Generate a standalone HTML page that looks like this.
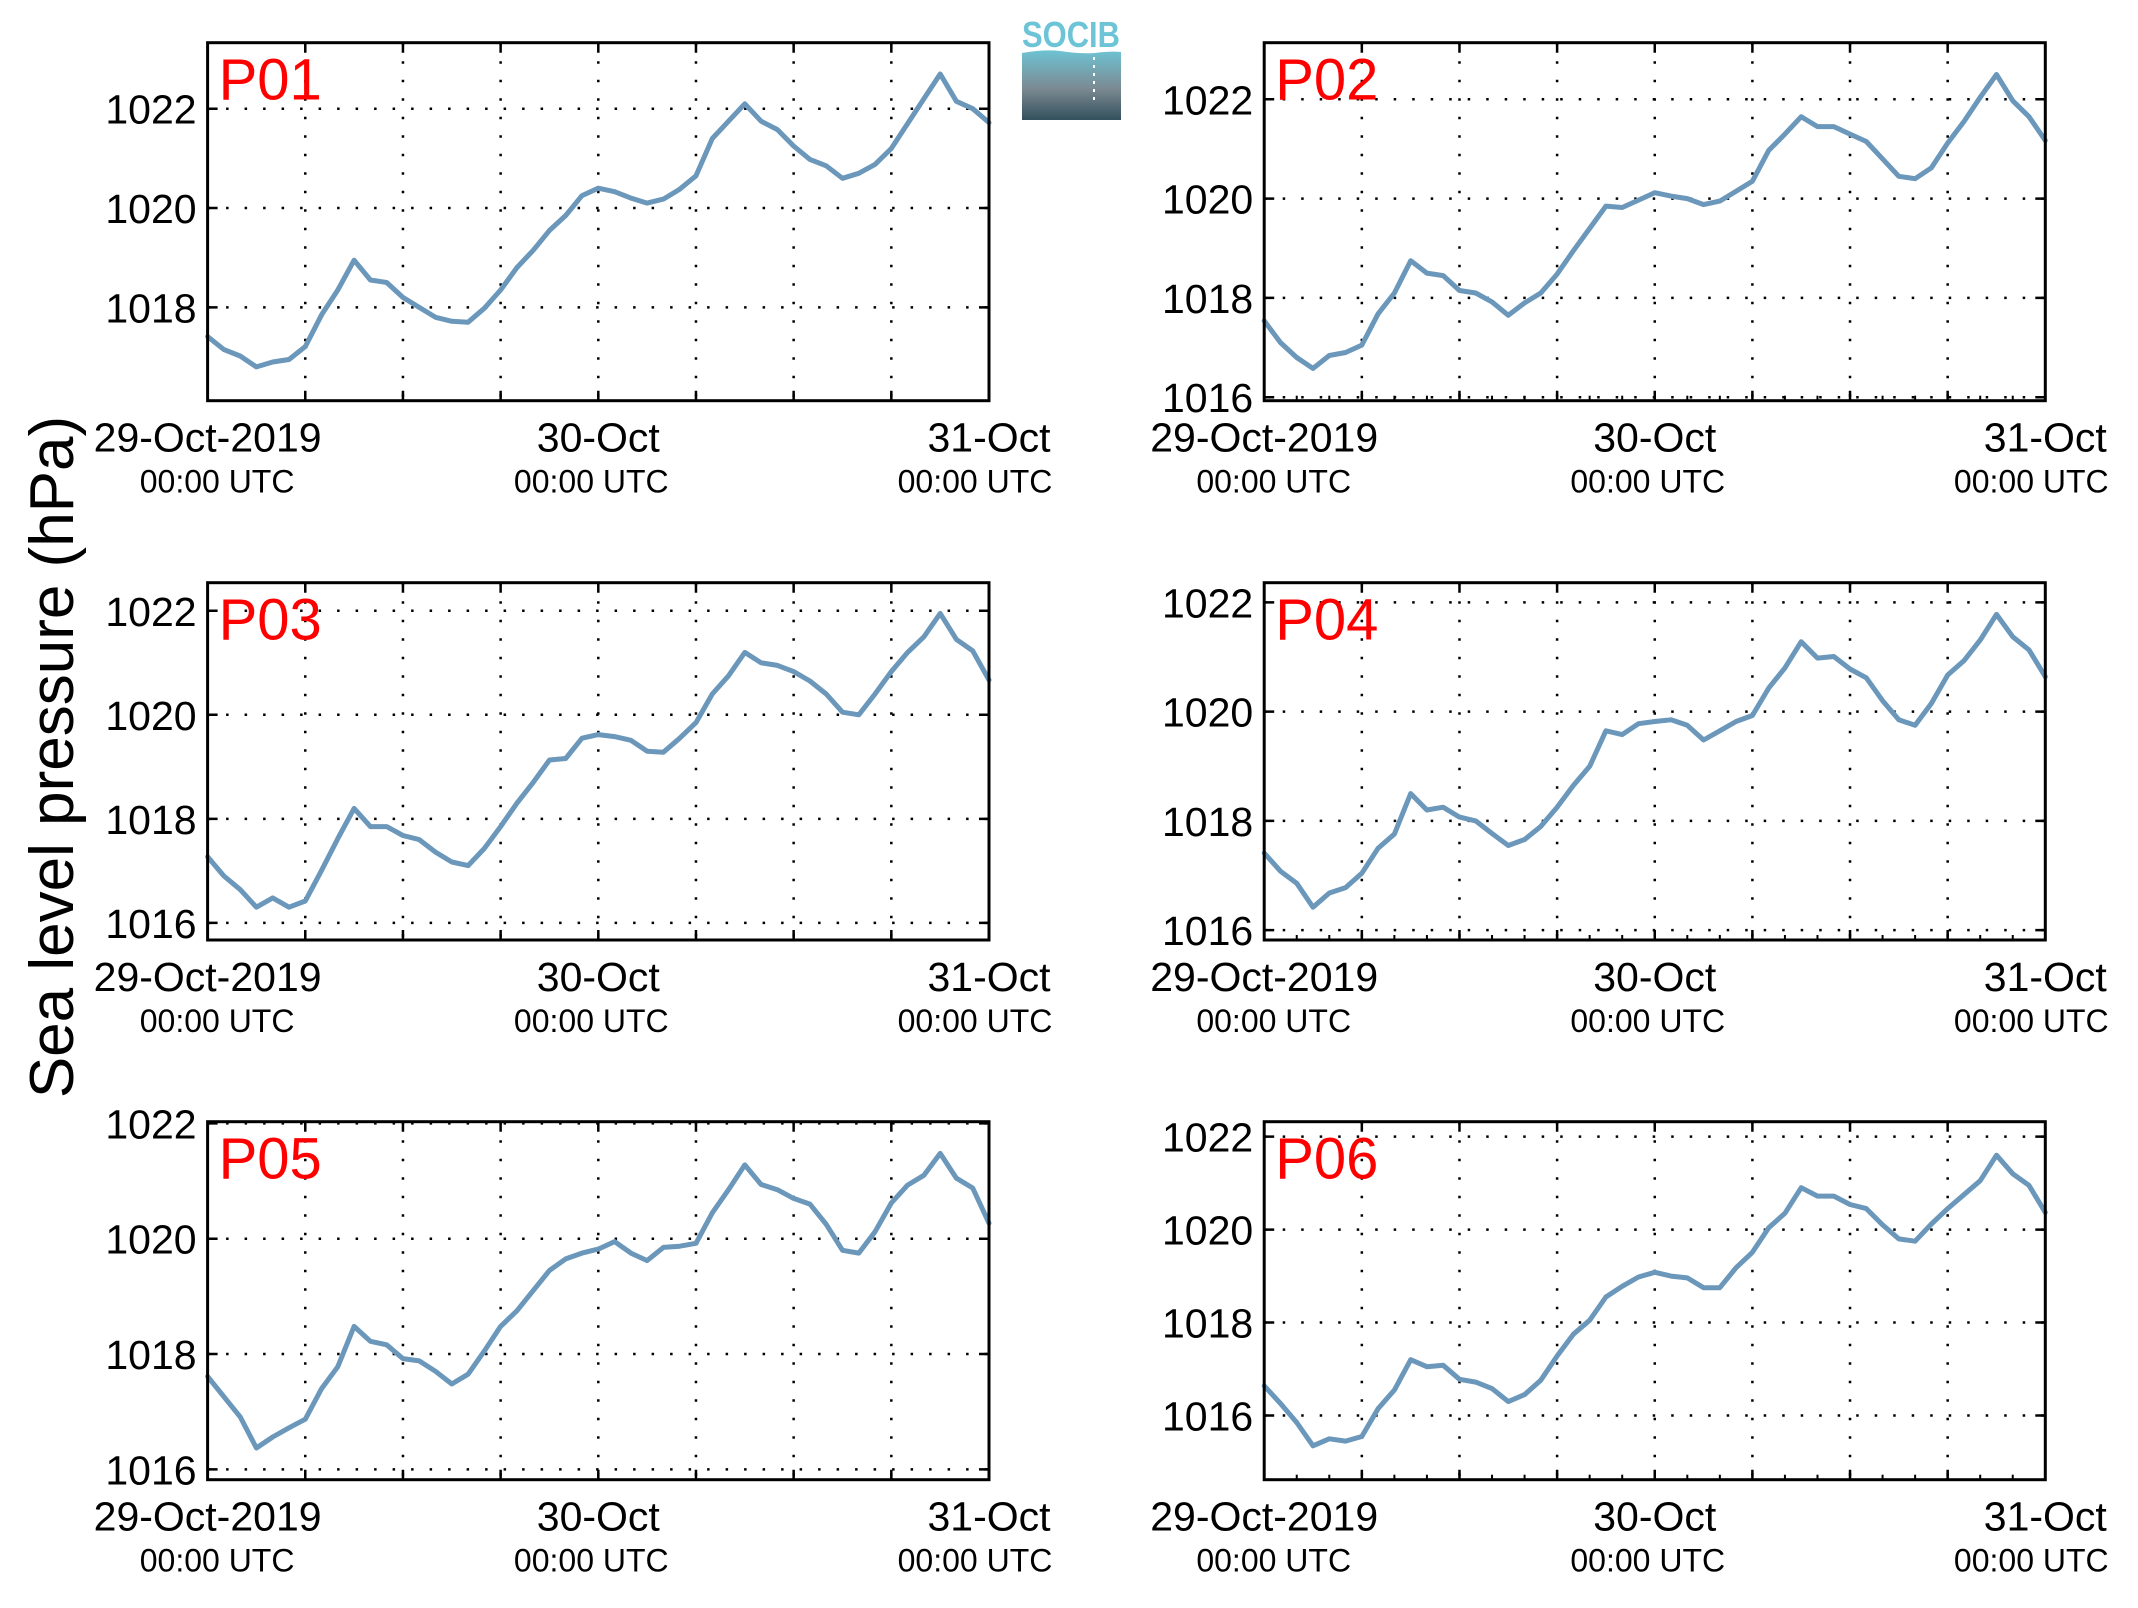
<!DOCTYPE html>
<html><head><meta charset="utf-8">
<style>
html,body{margin:0;padding:0;background:#fff;}
svg{display:block;}
text{font-family:"Liberation Sans",Arial,sans-serif;}
</style></head>
<body>
<svg id="chart" width="2138" height="1608" viewBox="0 0 2138 1608" xmlns="http://www.w3.org/2000/svg">
  <rect x="0" y="0" width="2138" height="1608" fill="#fff"/>
  <g id="logo">
    <defs>
      <linearGradient id="lg" x1="0" y1="0" x2="0" y2="1">
        <stop offset="0" stop-color="#6ec3d3"/>
        <stop offset="0.55" stop-color="#7b8a92"/>
        <stop offset="1" stop-color="#33505d"/>
      </linearGradient>
    </defs>
    <text x="1071" y="47" font-size="36" font-weight="bold" fill="#6cc4d6" text-anchor="middle" textLength="98" lengthAdjust="spacingAndGlyphs">SOCIB</text>
    <path d="M1022,53 Q1045,49 1060,51 Q1080,54 1095,53 Q1110,51 1121,52 L1121,120 L1022,120 Z" fill="url(#lg)"/>
    <line x1="1094" y1="57" x2="1094" y2="105" stroke="#fff" stroke-width="2" stroke-dasharray="3 5"/>
  </g>
  <text x="0" y="0" font-size="62" fill="#000" text-anchor="middle" transform="translate(73,757) rotate(-90)">Sea level pressure (hPa)</text>
  <g id="panels"></g>
</svg>
<script>
// ---- data (hourly values, 29-Oct 00:00 to 31-Oct 00:00) ----
const hours = [0,1,2,3,4,5,6,7,8,9,10,11,12,13,14,15,16,17,18,19,20,21,22,23,24,25,26,27,28,29,30,31,32,33,34,35,36,37,38,39,40,41,42,43,44,45,46,47,48];
const p01 = [1017.41,1017.15,1017.02,1016.80,1016.90,1016.95,1017.21,1017.85,1018.35,1018.95,1018.55,1018.50,1018.20,1018.00,1017.80,1017.72,1017.70,1017.98,1018.35,1018.80,1019.15,1019.55,1019.85,1020.25,1020.40,1020.33,1020.20,1020.10,1020.18,1020.38,1020.65,1021.40,1021.75,1022.10,1021.75,1021.58,1021.25,1020.98,1020.85,1020.60,1020.70,1020.88,1021.20,1021.70,1022.20,1022.70,1022.15,1022.00,1021.72];
const p02 = [1017.54,1017.10,1016.80,1016.58,1016.84,1016.90,1017.05,1017.68,1018.10,1018.75,1018.50,1018.45,1018.15,1018.10,1017.92,1017.65,1017.90,1018.10,1018.48,1018.95,1019.40,1019.85,1019.82,1019.97,1020.12,1020.05,1020.00,1019.88,1019.95,1020.15,1020.35,1020.97,1021.30,1021.65,1021.45,1021.45,1021.30,1021.15,1020.80,1020.45,1020.40,1020.62,1021.12,1021.55,1022.04,1022.50,1021.97,1021.65,1021.17];
const p03 = [1017.27,1016.90,1016.64,1016.30,1016.48,1016.30,1016.42,1017.01,1017.62,1018.20,1017.85,1017.85,1017.68,1017.60,1017.36,1017.17,1017.10,1017.43,1017.85,1018.30,1018.70,1019.13,1019.16,1019.55,1019.62,1019.58,1019.51,1019.30,1019.28,1019.55,1019.85,1020.40,1020.75,1021.20,1021.00,1020.95,1020.83,1020.65,1020.40,1020.05,1020.00,1020.40,1020.83,1021.20,1021.50,1021.95,1021.45,1021.23,1020.67];
const p04 = [1017.41,1017.08,1016.86,1016.42,1016.68,1016.78,1017.04,1017.50,1017.76,1018.50,1018.20,1018.25,1018.07,1018.00,1017.77,1017.55,1017.66,1017.90,1018.25,1018.65,1019.00,1019.65,1019.58,1019.78,1019.82,1019.85,1019.75,1019.48,1019.65,1019.82,1019.93,1020.43,1020.80,1021.28,1020.98,1021.01,1020.78,1020.62,1020.20,1019.85,1019.75,1020.15,1020.67,1020.93,1021.31,1021.78,1021.37,1021.13,1020.64];
const p05 = [1017.61,1017.26,1016.91,1016.37,1016.56,1016.72,1016.87,1017.40,1017.78,1018.48,1018.22,1018.16,1017.92,1017.88,1017.70,1017.48,1017.65,1018.05,1018.48,1018.75,1019.10,1019.45,1019.65,1019.75,1019.82,1019.95,1019.75,1019.62,1019.85,1019.87,1019.92,1020.45,1020.85,1021.28,1020.94,1020.85,1020.70,1020.60,1020.25,1019.80,1019.75,1020.12,1020.62,1020.93,1021.10,1021.48,1021.05,1020.88,1020.27];
const p06 = [1016.64,1016.26,1015.85,1015.35,1015.50,1015.45,1015.55,1016.15,1016.55,1017.20,1017.05,1017.08,1016.78,1016.72,1016.58,1016.30,1016.45,1016.76,1017.28,1017.75,1018.05,1018.55,1018.78,1018.98,1019.08,1019.00,1018.96,1018.75,1018.75,1019.18,1019.51,1020.04,1020.35,1020.90,1020.72,1020.72,1020.54,1020.45,1020.10,1019.80,1019.75,1020.12,1020.45,1020.75,1021.05,1021.60,1021.20,1020.95,1020.37];
const panelNames = ["P01","P02","P03","P04","P05","P06"];
const seriesList = [p01,p02,p03,p04,p05,p06];
const yMins = [1016.12,1015.93,1015.67,1015.82,1015.82,1014.62];
const yMaxs = [1023.33,1023.14,1022.54,1022.36,1022.03,1022.32];
const yTicks1 = [1018,1020,1022];
const yTicks2 = [1016,1018,1020,1022];
const yTicksList = [yTicks1,yTicks2,yTicks2,yTicks2,yTicks2,yTicks2];
const xTickHours = [0,24,48];
const xTickDates = ["29-Oct-2019","30-Oct","31-Oct"];
const xTickTimes = ["00:00 UTC","00:00 UTC","00:00 UTC"];
const gridHours = [6,12,18,24,30,36,42];

// ---- layout ----
const NS = "http://www.w3.org/2000/svg";
const colX = [[207.6,989],[1264.2,2045.3]];
const rowY = [[42.7,400.7],[582.7,940],[1121.7,1479.7]];
const timeOffsets = [9.5,-7,-14];
const root = document.getElementById("panels");
function mk(tag, attrs, parent){
  const e = document.createElementNS(NS, tag);
  for (const k in attrs) e.setAttribute(k, attrs[k]);
  parent.appendChild(e);
  return e;
}
for (let i = 0; i < 6; i++) {
  const c = i % 2, r = Math.floor(i / 2);
  const L = colX[c][0], R = colX[c][1], T = rowY[r][0], B = rowY[r][1];
  const ymin = yMins[i], ymax = yMaxs[i];
  const xs = h => L + (h - hours[0]) / (hours[hours.length-1] - hours[0]) * (R - L);
  const ys = v => B - (v - ymin) / (ymax - ymin) * (B - T);
  const g = mk("g", {}, root);
  
  
  gridHours.forEach(h => {
    const ln = mk("line", {x1:xs(h), y1:T, x2:xs(h), y2:B, stroke:"#000", "stroke-width":2.5, "stroke-dasharray":"2.5 16"}, g);
    
    
  });
  yTicksList[i].forEach(v => {
    const ln = mk("line", {x1:L, y1:ys(v), x2:R, y2:ys(v), stroke:"#000", "stroke-width":2.5, "stroke-dasharray":"2.5 16"}, g);
    
    
    const tk = mk("path", {d:`M${L},${ys(v)}h10M${R},${ys(v)}h-10`, stroke:"#000", "stroke-width":2.5}, g);
    
    
    const t = mk("text", {x:L-11, y:ys(v)+15, "font-size":41, "text-anchor":"end", fill:"#000"}, g);
    t.textContent = v;
    
    
  });
  for (let h = 6; h < 48; h += 6) {
    const tk = mk("path", {d:`M${xs(h)},${B}v-10M${xs(h)},${T}v10`, stroke:"#000", "stroke-width":2.5}, g);
    
    
  }
  if (c === 1) {
    for (let h = 2; h < 48; h += 2) {
      if (h % 6 === 0) continue;
      const tk = mk("path", {d:`M${xs(h)},${B}v-5`, stroke:"#000", "stroke-width":2}, g);
      
      
    }
  }
  xTickHours.forEach((h, k) => {
    const t1 = mk("text", {x:xs(h), y:B+51, "font-size":41, "text-anchor":"middle", fill:"#000"}, g);
    t1.textContent = xTickDates[k];
    
    
    const t2 = mk("text", {x:xs(h)+timeOffsets[k], y:B+92, "font-size":32, "text-anchor":"middle", fill:"#000"}, g);
    t2.textContent = xTickTimes[k];
    
    
  });
  const s = seriesList[i];
  const d = s.map((v, k) => (k ? "L" : "M") + xs(hours[k]).toFixed(1) + "," + ys(v).toFixed(1)).join("");
  const p = mk("path", {d:d, fill:"none", stroke:"#6b97bb", "stroke-width":5, "stroke-linejoin":"round", "stroke-linecap":"round"}, g);
  
  
  const fr = mk("rect", {x:L, y:T, width:R-L, height:B-T, fill:"none", stroke:"#000", "stroke-width":3}, g);
  
  
  const lb = mk("text", {x:L+11, y:T+56.6, "font-size":58, fill:"#ff0000"}, g);
  lb.textContent = panelNames[i];
  
  
}
</script>
</body></html>
